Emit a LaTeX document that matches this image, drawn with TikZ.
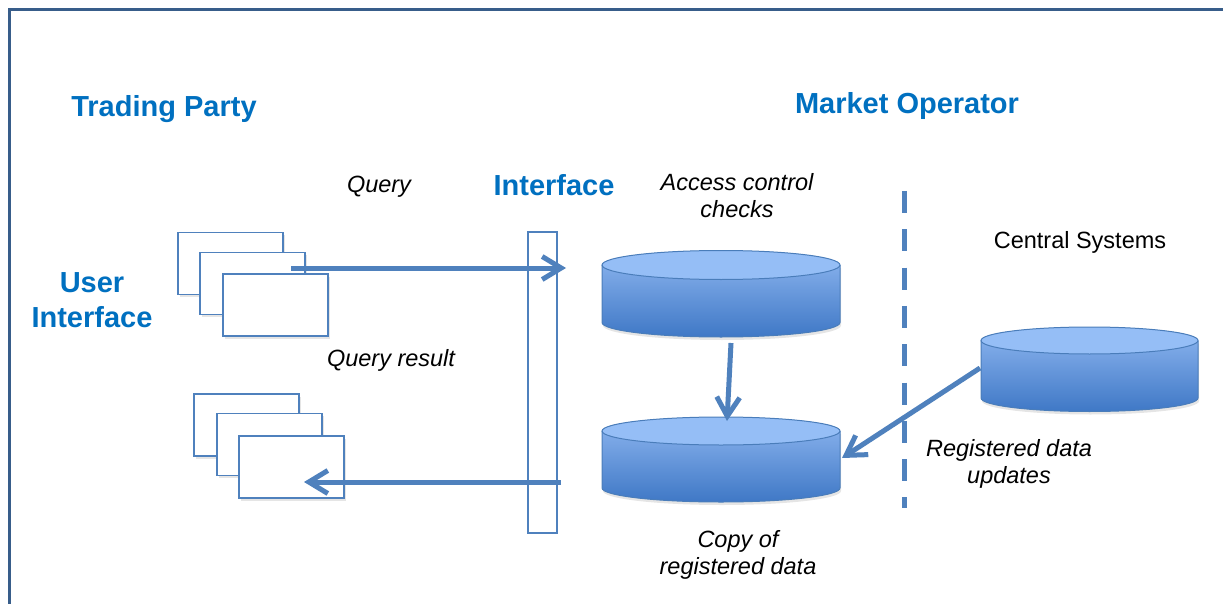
\documentclass[tikz,border=0pt]{standalone}
\usepackage{fontspec}
\setmainfont{Liberation Sans}
\usetikzlibrary{arrows.meta,shadows}
\definecolor{linec}{HTML}{4F81BD}
\definecolor{textblue}{HTML}{0070C0}
\definecolor{borderc}{HTML}{385D8A}
\definecolor{cylface}{HTML}{95BEF6}
\definecolor{cylt}{HTML}{8FB7F0}
\definecolor{cylb}{HTML}{3F78C6}
\definecolor{cyle}{HTML}{4A7DBA}
\newcommand\dbcyl[6]{%
  \fill[black,opacity=0.10] ({#2-#5+1},{#3+3}) -- ({#2-#5+1},{#4+3}) arc[start angle=180,end angle=360,x radius=#5pt,y radius=#6pt] -- ({#2+#5+1},{#3+3}) -- cycle;
  \shade[top color=cylt,bottom color=cylb] ({#2-#5},{#3}) -- ({#2-#5},{#4}) arc[start angle=180,end angle=360,x radius=#5pt,y radius=#6pt] -- ({#2+#5},{#3}) arc[start angle=0,end angle=180,x radius=#5pt,y radius=#6pt] -- cycle;
  \filldraw[fill=cylface,draw=cyle,line width=1] ({#2},{#3}) ellipse [x radius=#5pt,y radius=#6pt];
  \draw[cyle,line width=1] ({#2-#5},{#3}) -- ({#2-#5},{#4}) arc[start angle=180,end angle=360,x radius=#5pt,y radius=#6pt] -- ({#2+#5},{#3});
  \node[inner sep=0,minimum width={2*#5},minimum height={#4-#3+2*#6}] (#1) at ({#2},{(#3+#4)/2}) {};
}
\tikzset{
  head/.style={font=\bfseries\fontsize{29}{35}\selectfont,text=textblue,inner sep=0,align=center},
  lab/.style={font=\itshape\fontsize{23.5}{27}\selectfont,inner sep=0,align=center},
  plain/.style={font=\fontsize{23.5}{27}\selectfont,inner sep=0},
  page/.style={draw=linec,line width=1.7,fill=white,minimum width=105,minimum height=62,inner sep=0,
    drop shadow={shadow xshift=1.5pt,shadow yshift=-2.5pt,opacity=0.2}},
  conn/.style={linec,line width=5,-{Straight Barb[length=19pt,width=23pt]}},
  bar/.style={draw=linec,line width=1.7,fill=white,minimum width=29,minimum height=301,inner sep=0}
}
\begin{document}
\begin{tikzpicture}[x=1pt,y=-1pt]
\useasboundingbox (0,0) rectangle (1223,604);
\fill[white] (0,0) rectangle (1223,604);
\draw[borderc,line width=2.5] (1223,9.5) -- (9.5,9.5) -- (9.5,604);

% titles
\node[head,anchor=base] (tp) at (164,117) {Trading Party};
\node[head,anchor=base] (mo) at (907,114) {Market Operator};
\node[head,anchor=base] (itf) at (554,196) {Interface};
\node[head,anchor=base] (ui) at (92,327) {User\\Interface};

% labels
\node[lab,anchor=base] (q) at (379,193) {Query};
\node[lab,anchor=base] (acc) at (737,218) {Access control\\checks};
\node[plain,anchor=base] (cs) at (1080,248) {Central Systems};
\node[lab,anchor=base] (qr) at (391,366) {Query result};
\node[lab,anchor=base] (rdu) at (1009,483) {Registered data\\updates};
\node[lab,anchor=base] (cop) at (738,574) {Copy of\\registered data};

% query pages
\node[page] (r1) at (230.5,263.5) {};
\node[page] (r2) at (252.5,283.5) {};
\node[page] (r3) at (275.5,305) {};
% result pages
\node[page] (b1) at (246.5,425) {};
\node[page] (b2) at (269.5,444.5) {};
\node[page] (b3) at (291.5,467) {};

% interface bar
\node[bar] (ibar) at (542.5,382.5) {};

% databases
\dbcyl{db1}{721}{265}{322.5}{119}{14.5}
\dbcyl{db2}{721}{431}{488}{119}{14}
\dbcyl{db3}{1089.5}{340.5}{398}{108.5}{13.5}

% connector end points
\coordinate (qs) at (291,268);
\coordinate (qe) at (566,268);
\coordinate (rs) at (561,482);
\coordinate (re) at (304,482);
\coordinate (ds) at (731,343);
\coordinate (de) at (727,421);
\coordinate (us) at (980,368);
\coordinate (ue) at (842,458);

\draw[conn] (qs) -- (qe);
\draw[conn] (rs) -- (re);
\draw[conn] (ds) -- (de);
\draw[conn] (us) -- (ue);

% divider
\coordinate (v1) at (904,191);
\coordinate (v2) at (904,508);
\draw[linec,line width=5,dash pattern=on 22pt off 16.3pt] (v1) -- (v2);
\end{tikzpicture}
\end{document}
